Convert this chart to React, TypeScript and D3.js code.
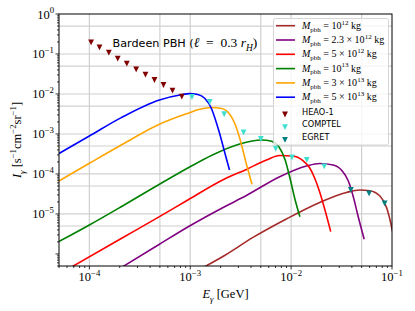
import { useEffect, useRef } from "react";
import * as d3 from "d3";

// photon spectra of Bardeen PBHs, [E (GeV), I (s^-1 cm^-2 sr^-1)]
const m1e12: [number, number][] = [
  [1.32e-3, 4.47e-7], [2.19e-3, 9.17e-7], [4.19e-3, 2.59e-6], [8.97e-3, 7.5e-6],
  [1.92e-2, 1.94e-5], [3.54e-2, 3.45e-5], [4.8e-2, 3.98e-5], [6.03e-2, 3.82e-5],
  [7.59e-2, 2.82e-5], [8.83e-2, 1.45e-5], [0.1005, 3.98e-6], [0.109, 1.26e-6],
];
const m23e12: [number, number][] = [
  [2.08e-4, 4.6e-7], [4.95e-4, 1.75e-6], [9.46e-4, 4.73e-6], [2.19e-3, 1.52e-5],
  [3.6e-3, 2.9e-5], [7.71e-3, 8.56e-5], [1.42e-2, 1.58e-4], [1.92e-2, 1.83e-4],
  [2.61e-2, 1.68e-4], [3.18e-2, 1.22e-4], [3.69e-2, 6.68e-5], [4.14e-2, 2.66e-5],
  [4.58e-2, 9.44e-6], [5.3e-2, 2.33e-6],
];
const m5e12: [number, number][] = [
  [6.62e-5, 4.68e-7], [2.07e-4, 2.44e-6], [4.95e-4, 8.56e-6], [9.46e-4, 2.24e-5],
  [2.19e-3, 7.5e-5], [3.6e-3, 1.3e-4], [5.69e-3, 2.24e-4], [7.71e-3, 2.9e-4],
  [1.04e-2, 2.82e-4], [1.3e-2, 2.18e-4], [1.53e-2, 1.41e-4], [1.71e-2, 7.94e-5],
  [1.92e-2, 3.55e-5], [2.21e-2, 1.04e-5], [2.47e-2, 3.61e-6],
];
const m1e13: [number, number][] = [
  [5e-5, 2.05e-6], [1e-4, 5.31e-6], [2.07e-4, 1.52e-5], [4.95e-4, 5.53e-5],
  [9.46e-4, 1.41e-4], [1.66e-3, 2.99e-4], [3.09e-3, 5.62e-4], [5.05e-3, 7.08e-4],
  [6.41e-3, 6.61e-4], [7.53e-3, 4.87e-4], [8.73e-3, 2.24e-4], [9.68e-3, 8.41e-5],
  [1.09e-2, 2.37e-5], [1.22e-2, 8.56e-6],
];
const m3e13: [number, number][] = [
  [5e-5, 6.68e-5], [1e-4, 1.85e-4], [2.07e-4, 5.31e-4], [4.95e-4, 1.75e-3],
  [9.4e-4, 3.26e-3], [1.24e-3, 4.14e-3], [1.62e-3, 4.6e-3], [2.05e-3, 4.34e-3],
  [2.45e-3, 3.16e-3], [2.75e-3, 1.88e-3], [3.09e-3, 7.94e-4], [3.6e-3, 1.78e-4],
  [4.09e-3, 5.53e-5],
];
const m5e13: [number, number][] = [
  [5e-5, 3.26e-4], [1e-4, 8.91e-4], [2.07e-4, 2.56e-3], [4.95e-4, 7.08e-3],
  [8.15e-4, 9.61e-3], [9.84e-4, 1.02e-2], [1.19e-3, 9.72e-3], [1.39e-3, 7.81e-3],
  [1.63e-3, 4.22e-3], [1.78e-3, 2.24e-3], [1.95e-3, 1.06e-3], [2.19e-3, 3.55e-4],
  [2.45e-3, 1.26e-4],
];

// observational data
const heao1: [number, number][] = [
  [1.04e-4, 0.196], [1.26e-4, 0.147], [1.56e-4, 0.108], [1.91e-4, 0.0763],
  [2.35e-4, 0.0572], [2.91e-4, 0.0414], [3.6e-4, 0.0304], [4.42e-4, 0.0224],
  [5.43e-4, 0.0168], [6.67e-4, 0.0121], [8.25e-4, 0.00856],
];
const comptel: [number, number][] = [
  [1.04e-3, 8.41e-3], [1.56e-3, 6.31e-3], [2.17e-3, 3.11e-3], [3.38e-3, 1.09e-3],
  [5.01e-3, 7.5e-4], [7.03e-3, 4.27e-4], [1.02e-2, 2.59e-4], [1.43e-2, 2.24e-4],
  [2.13e-2, 1.54e-4],
];
const egret: [number, number][] = [
  [3.91e-2, 3.98e-5], [5.93e-2, 3.29e-5], [8.46e-2, 1.85e-5],
];

const massLabels = ["10", "2.3 × 10", "5 × 10", "10", "3 × 10", "5 × 10"];
const massExps = ["12", "12", "12", "13", "13", "13"];
const curveColors = ["#a52a2a", "#800080", "#ff0000", "#008000", "#ffa500", "#0000ff"];
const curves = [m1e12, m23e12, m5e12, m1e13, m3e13, m5e13];

const obsNames = ["HEAO-1", "COMPTEL", "EGRET"];
const obsColors = ["#800000", "#40e0d0", "#008080"];
const obsSets = [heao1, comptel, egret];

const xTicks = [1e-4, 1e-3, 1e-2, 1e-1];
const xTickExp = ["−4", "−3", "−2", "−1"];
const yTicks = [1, 1e-1, 1e-2, 1e-3, 1e-4, 1e-5];
const yTickExp = ["0", "−1", "−2", "−3", "−4", "−5"];
const xGrid = [1e-4, 5e-4, 1e-3, 5e-3, 1e-2, 5e-2];
const yGrid = [5e-1, 1e-1, 5e-2, 1e-2, 5e-3, 1e-3, 5e-4, 1e-4, 5e-5, 1e-5, 5e-6];

const W = 415;
const H = 311;
const m = { top: 14, right: 23, bottom: 45, left: 59 };
const SERIF = "'Liberation Serif', 'DejaVu Serif', serif";
const SANS = "'DejaVu Sans', sans-serif";

type Seg = [string, string?];

// text with italic / sub / sup pieces
function mathText(
  g: d3.Selection<any, unknown, null, undefined>,
  x: number,
  y: number,
  segs: Seg[],
  size: number,
  anchor = "start",
  family = SERIF,
) {
  const t = g
    .append("text")
    .attr("x", x)
    .attr("y", y)
    .attr("text-anchor", anchor)
    .attr("font-family", family)
    .attr("font-size", size)
    .attr("fill", "#000")
    .attr("xml:space", "preserve");
  let cur = 0;
  segs.forEach(([s, st]) => {
    const kind = st ?? "";
    let target = 0;
    if (kind.includes("sub")) target = size * 0.28;
    if (kind.includes("sup")) target = -size * 0.42;
    const small = kind.includes("sub") || kind.includes("sup");
    const ts = t
      .append("tspan")
      .attr("dy", target - cur)
      .attr("font-size", small ? size * 0.7 : size)
      .text(s);
    if (kind.includes("it")) ts.attr("font-style", "italic");
    if (kind.includes("sans")) ts.attr("font-family", SANS).attr("font-size", 11.2);
    cur = target;
  });
  return t;
}

export default function App() {
  const ref = useRef<SVGSVGElement>(null);

  useEffect(() => {
    if (!ref.current) return;
    const svg = d3.select(ref.current);
    svg.selectAll("*").remove();

    const x = d3.scaleLog().domain([5e-5, 0.1]).range([m.left, W - m.right]);
    const y = d3.scaleLog().domain([5e-7, 1]).range([H - m.bottom, m.top]);
    const [x0, x1] = x.range();
    const [y0, y1] = y.range();

    svg
      .append("defs")
      .append("clipPath")
      .attr("id", "plot-clip")
      .append("rect")
      .attr("x", x0)
      .attr("y", y1)
      .attr("width", x1 - x0)
      .attr("height", y0 - y1);

    const g = svg.append("g");

    // grid
    xGrid.forEach((v) => {
      g.append("line")
        .attr("x1", x(v))
        .attr("x2", x(v))
        .attr("y1", y1)
        .attr("y2", y0)
        .attr("stroke", "#d0d0d0")
        .attr("stroke-width", 1.2);
    });
    yGrid.forEach((v) => {
      g.append("line")
        .attr("x1", x0)
        .attr("x2", x1)
        .attr("y1", y(v))
        .attr("y2", y(v))
        .attr("stroke", "#d0d0d0")
        .attr("stroke-width", 1.2);
    });

    // curves
    const line = d3
      .line<[number, number]>()
      .x((d) => x(d[0]))
      .y((d) => y(d[1]))
      .curve(d3.curveMonotoneX);
    const cg = g.append("g").attr("clip-path", "url(#plot-clip)");
    curves.forEach((c, i) => {
      cg.append("path")
        .attr("d", line(c))
        .attr("fill", "none")
        .attr("stroke", curveColors[i])
        .attr("stroke-width", 1.6);
    });

    // observational points
    const tri = (r: number) => `M${-r},${-r}L${r},${-r}L0,${r}Z`;
    obsSets.forEach((set, i) => {
      g.append("g")
        .selectAll("path")
        .data(set)
        .join("path")
        .attr("transform", (d) => `translate(${x(d[0])},${y(d[1])})`)
        .attr("d", tri(2.9))
        .attr("fill", obsColors[i]);
    });

    // spines
    g.append("rect")
      .attr("x", x0)
      .attr("y", y1)
      .attr("width", x1 - x0)
      .attr("height", y0 - y1)
      .attr("fill", "none")
      .attr("stroke", "#000")
      .attr("stroke-width", 1);

    // ticks
    const minors: number[] = [];
    for (let e = -7; e <= 0; e++) {
      for (let k = 1; k <= 9; k++) minors.push(k * Math.pow(10, e));
    }
    minors.forEach((v) => {
      const major = Math.abs(Math.log10(v) - Math.round(Math.log10(v))) < 1e-9;
      if (v >= 5e-5 && v <= 0.1) {
        g.append("line")
          .attr("x1", x(v))
          .attr("x2", x(v))
          .attr("y1", y0)
          .attr("y2", y0 + (major ? 3.5 : 2))
          .attr("stroke", "#000")
          .attr("stroke-width", 0.8);
      }
      if (v >= 5e-7 && v <= 1) {
        g.append("line")
          .attr("x1", x0)
          .attr("x2", x0 - (major ? 3.5 : 2))
          .attr("y1", y(v))
          .attr("y2", y(v))
          .attr("stroke", "#000")
          .attr("stroke-width", 0.8);
      }
    });

    xTicks.forEach((v, i) => {
      mathText(g, x(v), 281, [["10"], [xTickExp[i], "sup"]], 12.5, "middle");
    });
    yTicks.forEach((v, i) => {
      mathText(g, x0 - 5, y(v) + 4.5, [["10"], [yTickExp[i], "sup"]], 12.5, "end");
    });

    // axis labels
    mathText(
      g,
      (x0 + x1) / 2,
      298,
      [["E", "it"], ["γ", "itsub"], [" [GeV]"]],
      12.5,
      "middle",
    );
    const yl = g.append("g").attr("transform", `translate(21,${(y0 + y1) / 2}) rotate(-90)`);
    mathText(
      yl,
      0,
      0,
      [["I", "it"], ["γ", "itsub"], [" [s"], ["−1", "sup"], ["cm"], ["−2", "sup"], ["sr"], ["−1", "sup"], ["]"]],
      12.5,
      "middle",
    );

    // title
    mathText(
      g,
      112.5,
      47.3,
      [["Bardeen PBH (", "sans"], ["ℓ", "it"], ["  =  0.3 "], ["r", "it"], ["H", "itsub"], [")"]],
      13.5,
    );

    // legend
    const leg = g.append("g");
    leg
      .append("rect")
      .attr("x", 273.5)
      .attr("y", 18.5)
      .attr("width", 115)
      .attr("height", 126.5)
      .attr("rx", 2)
      .attr("fill", "#fff")
      .attr("fill-opacity", 0.8)
      .attr("stroke", "#cccccc")
      .attr("stroke-width", 0.8);
    curveColors.forEach((c, i) => {
      const ry = 25.7 + i * 14.3;
      leg
        .append("line")
        .attr("x1", 276)
        .attr("x2", 295)
        .attr("y1", ry)
        .attr("y2", ry)
        .attr("stroke", c)
        .attr("stroke-width", 1.6);
      mathText(
        leg,
        302,
        ry + 3,
        [["M", "it"], ["pbh", "sub"], [" = " + massLabels[i]], [massExps[i], "sup"], [" kg"]],
        10,
      );
    });
    obsNames.forEach((name, i) => {
      const ry = 111.5 + i * 12.7;
      leg
        .append("path")
        .attr("transform", `translate(285,${ry + 3})`)
        .attr("d", tri(2.9))
        .attr("fill", obsColors[i]);
      leg
        .append("text")
        .attr("x", 302)
        .attr("y", ry + 3)
        .attr("font-family", SANS)
        .attr("font-size", 8.2)
        .text(name);
    });
  }, []);

  return (
    <svg
      ref={ref}
      width={W}
      height={H}
      style={{ position: "absolute", left: 0, top: 0, background: "#fff" }}
    />
  );
}
